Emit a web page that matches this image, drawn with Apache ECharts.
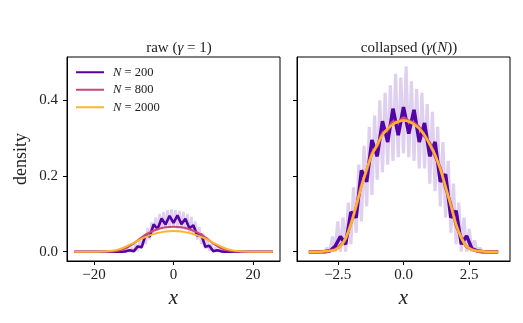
<!DOCTYPE html>
<html>
<head>
<meta charset="utf-8">
<script src="https://cdn.jsdelivr.net/npm/echarts@6/dist/echarts.min.js"></script>
<style>
  html, body { margin: 0; padding: 0; background: #fff; }
  #chart { width: 523px; height: 323px; }
</style>
</head>
<body>
<div id="chart"></div>
<script>
// legend names
const names = ['N = 200', 'N = 800', 'N = 2000']
const colors = ['#5302a3', '#cc4778', '#fdb42f']

// raw panel (gamma = 1)
const rawX = [-25, -24, -22, -20, -18, -16, -14, -12, -10, -8, -6, -4, -2, 0, 2, 4, 6, 8, 10, 12, 14, 16, 18, 20, 22, 24, 25]
const rawPink = [0, 0, 0, 0, 0, 0.0006, 0.0025, 0.009, 0.022, 0.038, 0.051, 0.0595, 0.0645, 0.066, 0.0645, 0.0595, 0.051, 0.038, 0.022, 0.009, 0.0025, 0.0006, 0, 0, 0, 0, 0]
const rawOrange = [0, 0, 0, 0.0001, 0.0004, 0.0017, 0.0055, 0.0135, 0.0235, 0.0345, 0.0432, 0.0495, 0.0537, 0.055, 0.0537, 0.0495, 0.0432, 0.0345, 0.0235, 0.0135, 0.0055, 0.0017, 0.0004, 0.0001, 0, 0, 0]
const rawDarkX = [-25, -14, -13, -12, -11, -10, -9, -8, -7, -6, -5, -4, -3, -2, -1, 0, 1, 2, 3, 4, 5, 6, 7, 8, 9, 10, 11, 12, 13, 14, 25]
const rawDark = [0, 0, 0, 0.001, 0.004, 0.001, 0.014, 0.012, 0.045, 0.04, 0.072, 0.06, 0.088, 0.072, 0.095, 0.076, 0.096, 0.073, 0.087, 0.062, 0.07, 0.042, 0.046, 0.013, 0.016, 0.001, 0.004, 0.001, 0, 0, 0]
const rawLightX = [-12, -11.5, -11, -10.5, -10, -9.5, -9, -8.5, -8, -7.5, -7, -6.5, -6, -5.5, -5, -4.5, -4, -3.5, -3, -2.5, -2, -1.5, -1, -0.5, 0, 0.5, 1, 1.5, 2, 2.5, 3, 3.5, 4, 4.5, 5, 5.5, 6, 6.5, 7, 7.5, 8, 8.5, 9, 9.5, 10, 10.5, 11, 11.5, 12]
const rawLight = [0, 0.006, 0, 0.01, 0, 0.02, 0.002, 0.03, 0.008, 0.045, 0.02, 0.062, 0.033, 0.078, 0.045, 0.09, 0.055, 0.1, 0.06, 0.105, 0.062, 0.11, 0.063, 0.112, 0.064, 0.11, 0.062, 0.108, 0.06, 0.105, 0.058, 0.1, 0.052, 0.092, 0.044, 0.08, 0.032, 0.065, 0.02, 0.048, 0.008, 0.032, 0.002, 0.02, 0, 0.012, 0, 0.006, 0]

// collapsed panel (gamma(N))
const collX = [-3.6, -3.4, -3.2, -3.0, -2.8, -2.6, -2.4, -2.2, -2.0, -1.8, -1.6, -1.4, -1.2, -1.0, -0.8, -0.6, -0.4, -0.2, 0, 0.2, 0.4, 0.6, 0.8, 1.0, 1.2, 1.4, 1.6, 1.8, 2.0, 2.2, 2.4, 2.6, 2.8, 3.0, 3.2, 3.4, 3.6]
const collOrange = [0, 0, 0, 0.001, 0.002, 0.005, 0.014, 0.036, 0.072, 0.122, 0.172, 0.218, 0.256, 0.283, 0.308, 0.325, 0.337, 0.344, 0.347, 0.344, 0.337, 0.325, 0.308, 0.283, 0.256, 0.218, 0.172, 0.122, 0.072, 0.036, 0.014, 0.005, 0.002, 0.001, 0, 0, 0]
const collPink = [0, 0, 0, 0.001, 0.003, 0.006, 0.016, 0.034, 0.075, 0.119, 0.176, 0.214, 0.26, 0.279, 0.313, 0.322, 0.343, 0.342, 0.354, 0.345, 0.34, 0.328, 0.306, 0.287, 0.252, 0.221, 0.168, 0.126, 0.07, 0.038, 0.013, 0.006, 0.002, 0.001, 0, 0, 0]
const collDark = [0, 0, 0, 0, 0.002, 0.014, 0.04, 0.02, 0.105, 0.09, 0.215, 0.185, 0.295, 0.252, 0.345, 0.29, 0.378, 0.308, 0.382, 0.312, 0.375, 0.29, 0.34, 0.252, 0.29, 0.185, 0.205, 0.09, 0.108, 0.02, 0.042, 0.008, 0.002, 0, 0, 0, 0]
const collLightX = [-3.0, -2.9, -2.8, -2.7, -2.6, -2.5, -2.4, -2.3, -2.2, -2.1, -2.0, -1.9, -1.8, -1.7, -1.6, -1.5, -1.4, -1.3, -1.2, -1.1, -1.0, -0.9, -0.8, -0.7, -0.6, -0.5, -0.4, -0.3, -0.2, -0.1, 0, 0.1, 0.2, 0.3, 0.4, 0.5, 0.6, 0.7, 0.8, 0.9, 1.0, 1.1, 1.2, 1.3, 1.4, 1.5, 1.6, 1.7, 1.8, 1.9, 2.0, 2.1, 2.2, 2.3, 2.4, 2.5, 2.6, 2.7, 2.8, 2.9, 3.0]
const collLight = [0, 0.01, 0, 0.04, 0, 0.08, 0, 0.09, 0, 0.13, 0.02, 0.17, 0.05, 0.23, 0.08, 0.28, 0.12, 0.33, 0.15, 0.36, 0.19, 0.40, 0.21, 0.42, 0.23, 0.44, 0.24, 0.47, 0.25, 0.46, 0.26, 0.49, 0.25, 0.45, 0.24, 0.43, 0.22, 0.42, 0.22, 0.39, 0.18, 0.37, 0.16, 0.33, 0.12, 0.29, 0.09, 0.24, 0.05, 0.18, 0.02, 0.13, 0, 0.09, 0, 0.06, 0, 0.03, 0, 0.01, 0]

// ticks
const yTicks = [0, 0.2, 0.4]
const rawTicks = [-20, 0, 20]
const collTicks = [-2.5, 0, 2.5]

const font = 'Liberation Serif'
const zip = (xs, ys) => xs.map((x, i) => [x, ys[i]])
const minus = v => String(v).replace('-', '\u2212')

const chart = echarts.init(document.getElementById('chart'))

function xAxisCfg (idx, min, max, ticks, fmt) {
  return {
    type: 'value',
    gridIndex: idx,
    min: min,
    max: max,
    splitLine: { show: false },
    axisLine: { show: true, onZero: false, lineStyle: { color: '#000', width: 1 } },
    axisTick: { show: true, length: 4, customValues: ticks, lineStyle: { color: '#000' } },
    axisLabel: { customValues: ticks, margin: 7, color: '#222', fontFamily: font, fontSize: 15, formatter: fmt },
    name: 'x',
    nameLocation: 'middle',
    nameGap: 25,
    nameTextStyle: { fontFamily: font, fontStyle: 'italic', fontSize: 21, color: '#222' }
  }
}

function yAxisCfg (idx, labels) {
  return {
    type: 'value',
    gridIndex: idx,
    min: -0.0245,
    max: 0.5145,
    splitLine: { show: false },
    axisLine: { show: true, onZero: false, lineStyle: { color: '#000', width: 1 } },
    axisTick: { show: true, length: 4, customValues: yTicks, lineStyle: { color: '#000' } },
    axisLabel: {
      show: labels,
      customValues: yTicks,
      margin: 9,
      color: '#222',
      fontFamily: font,
      fontSize: 15,
      formatter: v => v.toFixed(1)
    },
    name: labels ? 'density' : '',
    nameLocation: 'middle',
    nameGap: 37,
    nameRotate: 90,
    nameTextStyle: { fontFamily: font, fontSize: 18, color: '#222' }
  }
}

function line (name, xi, data, color, width, z, smooth) {
  return {
    name: name,
    type: 'line',
    xAxisIndex: xi,
    yAxisIndex: xi,
    data: data,
    symbol: 'none',
    smooth: smooth || false,
    z: z,
    lineStyle: { color: color, width: width },
    itemStyle: { color: color },
    emphasis: { disabled: true }
  }
}

const option = {
  animation: false,
  backgroundColor: '#fff',
  title: [
    {
      text: 'raw ({g|\u03b3} = 1)',
      left: 174,
      top: 36,
      textAlign: 'center',
      textStyle: {
        fontFamily: font, fontSize: 15, fontWeight: 'normal', color: '#222',
        rich: { g: { fontFamily: font, fontStyle: 'italic', fontSize: 15, color: '#222' } }
      }
    },
    {
      text: 'collapsed ({g|\u03b3}({g|N}))',
      left: 404,
      top: 36,
      textAlign: 'center',
      textStyle: {
        fontFamily: font, fontSize: 15, fontWeight: 'normal', color: '#222',
        rich: { g: { fontFamily: font, fontStyle: 'italic', fontSize: 15, color: '#222' } }
      }
    }
  ],
  grid: [
    { left: 67, right: 243, top: 57, bottom: 62, show: true, borderColor: '#000', borderWidth: 1, backgroundColor: 'transparent' },
    { left: 297, right: 13, top: 57, bottom: 62, show: true, borderColor: '#000', borderWidth: 1, backgroundColor: 'transparent' }
  ],
  legend: {
    data: names,
    orient: 'vertical',
    left: 76,
    top: 65,
    padding: 0,
    itemGap: 3,
    itemWidth: 28,
    itemHeight: 2,
    icon: 'rect',
    selectedMode: false,
    formatter: n => '{i|N}' + n.slice(1),
    textStyle: {
      fontFamily: font, fontSize: 12.5, color: '#222', lineHeight: 14.5, padding: [0, 0, 0, 4],
      rich: { i: { fontFamily: font, fontStyle: 'italic', fontSize: 12.5, color: '#222' } }
    }
  },
  xAxis: [
    xAxisCfg(0, -26.8, 26.8, rawTicks, v => minus(v)),
    xAxisCfg(1, -4.05, 4.05, collTicks, v => minus(v.toFixed(1)))
  ],
  yAxis: [yAxisCfg(0, true), yAxisCfg(1, false)],
  series: [
    line('', 0, zip(rawLightX, rawLight), 'rgba(110,40,180,0.22)', 2.6, 1),
    line(names[0], 0, zip(rawDarkX, rawDark), colors[0], 2.6, 2),
    line(names[1], 0, zip(rawX, rawPink), colors[1], 2, 3, 0.4),
    line(names[2], 0, zip(rawX, rawOrange), colors[2], 2, 4, 0.4),
    line('', 1, zip(collLightX, collLight), 'rgba(110,40,180,0.22)', 3.2, 1),
    line(names[0], 1, zip(collX, collDark), colors[0], 3.5, 2),
    line(names[1], 1, zip(collX, collPink), colors[1], 3, 3, 0.3),
    line(names[2], 1, zip(collX, collOrange), colors[2], 2.5, 4, 0.3)
  ]
}

chart.setOption(option)
</script>
</body>
</html>
